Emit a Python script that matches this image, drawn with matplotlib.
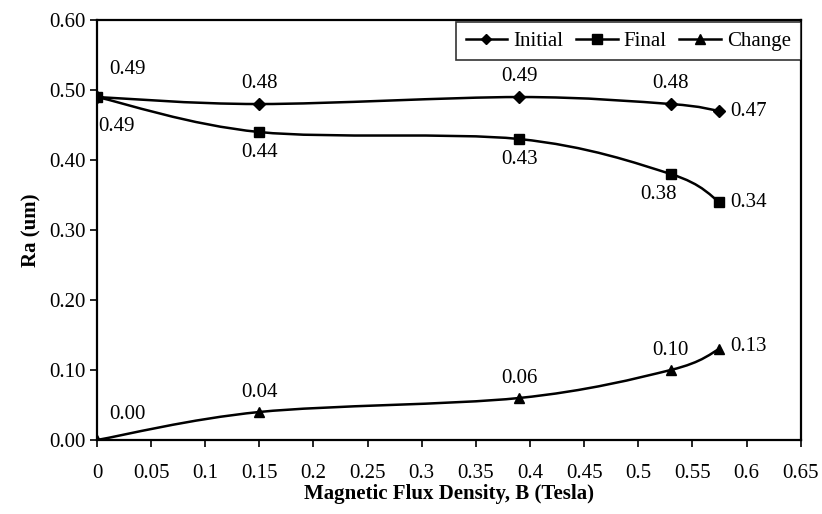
import numpy as np
import matplotlib
matplotlib.use("Agg")
import matplotlib.pyplot as plt
from matplotlib.path import Path
from matplotlib.patches import PathPatch

plt.rcParams['font.family'] = ['Liberation Serif', 'DejaVu Serif']

x_vals = [0.0, 0.15, 0.39, 0.53, 0.575]
initial = [0.49, 0.48, 0.49, 0.48, 0.47]
final = [0.49, 0.44, 0.43, 0.38, 0.34]
change = [0.00, 0.04, 0.06, 0.10, 0.13]
x_ticks = [0, 0.05, 0.1, 0.15, 0.2, 0.25, 0.3, 0.35, 0.4, 0.45, 0.5, 0.55, 0.6, 0.65]
x_tick_labels = ['0', '0.05', '0.1', '0.15', '0.2', '0.25', '0.3', '0.35', '0.4', '0.45', '0.5', '0.55', '0.6', '0.65']
y_ticks = [0.0, 0.1, 0.2, 0.3, 0.4, 0.5, 0.6]

FS = 15

# label offsets in points (dx, dy) and alignment
init_off = [(9, 20, 'left'), (0, 15, 'center'), (0, 15, 'center'), (0, 15, 'center'), (8, 0, 'left')]
final_off = [(1, -21, 'left'), (0, -15, 'center'), (0, -15, 'center'), (-9, -15, 'center'), (8, 0, 'left')]
change_off = [(9, 18, 'left'), (0, 14, 'center'), (0, 14, 'center'), (0, 14, 'center'), (8, 2, 'left')]


def smooth_path(xs, ys):
    pts = np.column_stack([xs, ys]).astype(float)
    n = len(pts)
    verts = [pts[0]]
    codes = [Path.MOVETO]
    for i in range(n - 1):
        p0 = pts[i - 1] if i > 0 else pts[i]
        p1 = pts[i]
        p2 = pts[i + 1]
        p3 = pts[i + 2] if i + 2 < n else pts[i + 1]
        c1 = p1 + (p2 - p0) / 6.0
        c2 = p2 - (p3 - p1) / 6.0
        verts += [c1, c2, p2]
        codes += [Path.CURVE4] * 3
    return Path(verts, codes)


fig = plt.figure(figsize=(8.22, 5.14), dpi=100)
ax = fig.add_axes([0.118, 0.144, 0.856, 0.817])

series = [
    (initial, 'D', 'Initial', 6.5, init_off),
    (final, 's', 'Final', 7.5, final_off),
    (change, '^', 'Change', 7.5, change_off),
]
for ys, mk, name, ms, offs in series:
    ax.add_patch(PathPatch(smooth_path(x_vals, ys), facecolor='none',
                           edgecolor='black', lw=1.8, transform=ax.transData, zorder=2))
    ax.plot(x_vals, ys, linestyle='none', marker=mk, color='black', ms=ms, zorder=3)
    ax.plot([], [], marker=mk, color='black', ms=ms - 1, lw=1.8, label=name)
    for xv, yv, (dx, dy, ha) in zip(x_vals, ys, offs):
        ax.annotate(f'{yv:.2f}', (xv, yv), xytext=(dx, dy), textcoords='offset points',
                    ha=ha, va='center', fontsize=FS)

ax.set_xlim(0, 0.65)
ax.set_ylim(0, 0.60)
ax.set_xticks(x_ticks)
ax.set_xticklabels(x_tick_labels, fontsize=FS)
ax.set_yticks(y_ticks)
ax.set_yticklabels([f'{v:.2f}' for v in y_ticks], fontsize=FS)
ax.tick_params(axis='x', direction='out', length=5, width=1.2, pad=12)
ax.tick_params(axis='y', direction='out', length=5, width=1.2, pad=3)
for sp in ax.spines.values():
    sp.set_linewidth(1.6)
ax.set_xlabel('Magnetic Flux Density, B (Tesla)', fontsize=FS, fontweight='bold', labelpad=1)
ax.set_ylabel('Ra (um)', fontsize=FS, fontweight='bold', labelpad=6)

leg = ax.legend(loc='upper right', bbox_to_anchor=(1, 0.995), borderaxespad=0, ncol=3,
                fontsize=FS, frameon=True, fancybox=False, handlelength=2.0,
                handletextpad=0.3, columnspacing=0.6, borderpad=0.45)
leg.get_frame().set_edgecolor('black')
leg.get_frame().set_linewidth(1.2)

fig.savefig('out.png', dpi=100)
